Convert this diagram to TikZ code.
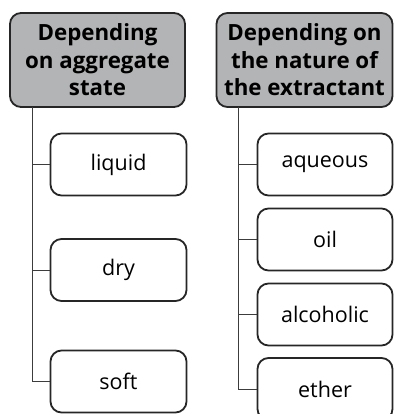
\documentclass[tikz,border=0pt]{standalone}
\usepackage{fontspec}
\setmainfont{Open Sans}
\definecolor{headgray}{RGB}{179,180,182}
\definecolor{linegray}{RGB}{60,60,60}
\begin{document}
\begin{tikzpicture}[x=1pt,y=-1pt,
  headbox/.style={draw=black!85, line width=1.8pt, rounded corners=11pt, fill=headgray,
    minimum width=#1, minimum height=94pt, inner sep=0pt, align=center,
    font=\fontsize{22.3}{27.5}\selectfont\bfseries},
  itembox/.style={draw=black!85, line width=1.8pt, rounded corners=11pt, fill=white,
    minimum width=#1, minimum height=62pt, inner sep=0pt, align=center,
    font=\fontsize{21.5}{24}\selectfont},
  conn/.style={draw=linegray, line width=1pt}]
\useasboundingbox (0,0) rectangle (394,414);
\node[headbox=175pt] (h1) at (97.5,60) {Depending\\on aggregate\\state};
\node[headbox=176pt] (h2) at (304.5,60) {Depending on\\the nature of\\the extractant};
\node[itembox=136pt] (liquid) at (118.5,164.5) {liquid};
\node[itembox=136pt] (dry) at (118.5,270) {dry};
\node[itembox=136pt] (soft) at (118.5,381.5) {soft};
\node[itembox=135pt] (aqueous) at (325,164.5) {aqueous};
\node[itembox=135pt] (oil) at (325,239.5) {oil};
\node[itembox=135pt] (alcoholic) at (325,314.5) {alcoholic};
\node[itembox=135pt] (ether) at (325,389) {ether};
\coordinate (c1) at (32,107);
\coordinate (c2) at (238,107);
\draw[conn] (c1) |- (soft.west);
\draw[conn] (c1 |- liquid.west) -- (liquid.west);
\draw[conn] (c1 |- dry.west) -- (dry.west);
\draw[conn] (c2) |- (ether.west);
\draw[conn] (c2 |- aqueous.west) -- (aqueous.west);
\draw[conn] (c2 |- oil.west) -- (oil.west);
\draw[conn] (c2 |- alcoholic.west) -- (alcoholic.west);
\end{tikzpicture}
\end{document}
